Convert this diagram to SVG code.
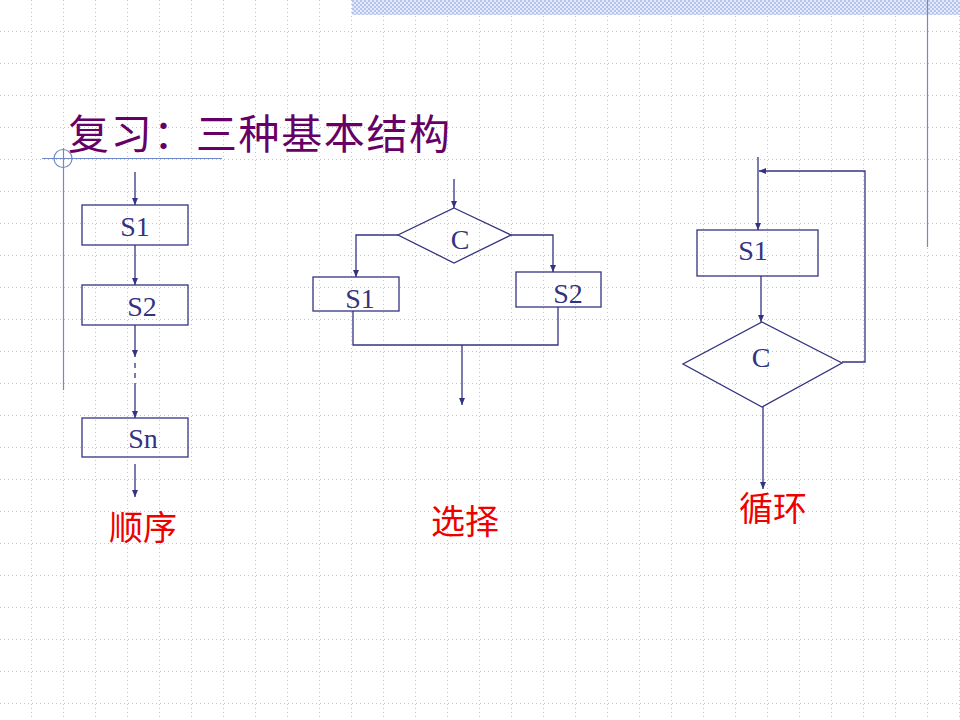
<svg xmlns="http://www.w3.org/2000/svg" width="960" height="720" viewBox="0 0 960 720">
<defs>
<pattern id="grid" x="0" y="0" width="32" height="32" patternUnits="userSpaceOnUse">
<line x1="0" y1="31.5" x2="32" y2="31.5" stroke="#c4c4c4" stroke-width="1" stroke-dasharray="1 3"/>
<line x1="31.5" y1="0" x2="31.5" y2="32" stroke="#c4c4c4" stroke-width="1" stroke-dasharray="1 3"/>
</pattern>
<pattern id="check" x="0" y="0" width="4" height="4" patternUnits="userSpaceOnUse">
<rect width="4" height="4" fill="#e4eaf8"/>
<rect width="2" height="2" fill="#b4c4ec"/>
<rect x="2" y="2" width="2" height="2" fill="#b4c4ec"/>
</pattern>
<marker id="arr" markerWidth="8" markerHeight="8" refX="7" refY="4" orient="auto" markerUnits="userSpaceOnUse">
<path d="M0,1 L7,4 L0,7 z" fill="#333380"/>
</marker>
<style>
.ln{fill:none;stroke:#333380;stroke-width:1.3}
.box{fill:none;stroke:#333380;stroke-width:1.3}
.lbl{font-family:"Liberation Serif","Times New Roman",serif;font-size:28px;fill:#333380;text-anchor:middle}
.cap{font-family:"Noto Sans CJK SC",sans-serif;font-size:34px;fill:#ee0000;text-anchor:middle}
.title{font-family:"Noto Sans CJK SC",sans-serif;font-size:41px;fill:#660066}
.deco{fill:none;stroke:#7088cc;stroke-width:1.2}
</style>
</defs>
<rect width="960" height="720" fill="#ffffff"/>
<rect width="960" height="720" fill="url(#grid)"/>
<rect x="352" y="0" width="608" height="15" fill="url(#check)"/>
<line class="deco" x1="927.5" y1="0" x2="927.5" y2="247"/>
<line class="deco" x1="42" y1="158.5" x2="222" y2="158.5"/>
<line class="deco" x1="63.5" y1="148" x2="63.5" y2="390"/>
<circle class="deco" cx="63" cy="158.5" r="9"/>
<text class="title" x="68" y="149" textLength="382">复习：三种基本结构</text>

<g id="connectors">
<!-- sequence -->
<line class="ln" x1="135" y1="172" x2="135" y2="205" marker-end="url(#arr)"/>
<line class="ln" x1="135" y1="245" x2="135" y2="285" marker-end="url(#arr)"/>
<line class="ln" x1="135" y1="325" x2="135" y2="357" marker-end="url(#arr)"/>
<line class="ln" x1="135" y1="363" x2="135" y2="380" stroke-dasharray="5 5"/>
<line class="ln" x1="135" y1="383" x2="135" y2="418" marker-end="url(#arr)"/>
<line class="ln" x1="135" y1="464" x2="135" y2="497" marker-end="url(#arr)"/>
<!-- selection -->
<line class="ln" x1="454" y1="179" x2="454" y2="208" marker-end="url(#arr)"/>
<polyline class="ln" points="398,235 356,235 356,277" marker-end="url(#arr)"/>
<polyline class="ln" points="511,235 553,235 553,272" marker-end="url(#arr)"/>
<polyline class="ln" points="353,311 353,345 558,345 558,307"/>
<line class="ln" x1="462" y1="345" x2="462" y2="405" marker-end="url(#arr)"/>
<!-- loop -->
<line class="ln" x1="758" y1="157" x2="758" y2="230" marker-end="url(#arr)"/>
<polyline class="ln" points="842,362 865,362 865,171 759,171" marker-end="url(#arr)"/>
<line class="ln" x1="761" y1="276" x2="761" y2="322" marker-end="url(#arr)"/>
<line class="ln" x1="763" y1="407" x2="763" y2="489" marker-end="url(#arr)"/>
</g>

<g id="seq-s1"><rect class="box" x="82" y="205" width="106" height="40"/><text class="lbl" x="135" y="236">S1</text></g>
<g id="seq-s2"><rect class="box" x="82" y="285" width="106" height="40"/><text class="lbl" x="142" y="316">S2</text></g>
<g id="seq-sn"><rect class="box" x="82" y="418" width="106" height="39"/><text class="lbl" x="143" y="448">Sn</text></g>
<g id="seq-label"><text class="cap" x="143" y="540">顺序</text></g>

<g id="sel-c"><polygon class="box" points="454,208 511,235 454,263 398,235"/><text class="lbl" x="460" y="249">C</text></g>
<g id="sel-s1"><rect class="box" x="313" y="277" width="86" height="34"/><text class="lbl" x="360" y="308">S1</text></g>
<g id="sel-s2"><rect class="box" x="516" y="272" width="85" height="35"/><text class="lbl" x="568" y="303">S2</text></g>
<g id="sel-label"><text class="cap" x="465" y="534">选择</text></g>

<g id="loop-s1"><rect class="box" x="697" y="230" width="121" height="46"/><text class="lbl" x="753" y="260">S1</text></g>
<g id="loop-c"><polygon class="box" points="762,322 842,363 762,407 683,364"/><text class="lbl" x="761" y="367">C</text></g>
<g id="loop-label"><text class="cap" x="773" y="521">循环</text></g>
</svg>
